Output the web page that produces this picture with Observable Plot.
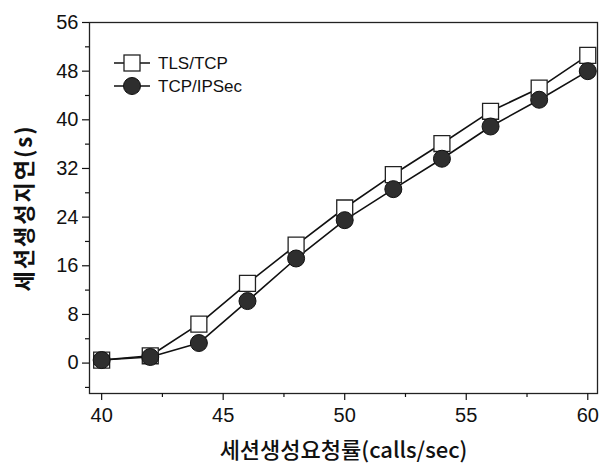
<!DOCTYPE html>
<html><head><meta charset="utf-8">
<script src="https://cdn.jsdelivr.net/npm/d3@7"></script>
<script src="https://cdn.jsdelivr.net/npm/@observablehq/plot@0.6"></script>
<style>
body{margin:0;background:#fff}
#chart{width:613px;height:466px}
</style>
</head><body><div id="chart"></div>
<script>
const rates = [40, 42, 44, 46, 48, 50, 52, 54, 56, 58, 60];
const tlsTcp = [0.5, 1.2, 6.4, 13.1, 19.4, 25.5, 31.0, 36.1, 41.4, 45.2, 50.6];
const tcpIpsec = [0.5, 1.0, 3.3, 10.2, 17.2, 23.5, 28.6, 33.6, 38.9, 43.3, 48.0];
const seriesNames = ["TLS/TCP", "TCP/IPSec"];
const yMajor = [0, 8, 16, 24, 32, 40, 48, 56];
const yMinor = [-4, 4, 12, 20, 28, 36, 44, 52];
const xMajor = [40, 45, 50, 55, 60];
const xMinor = [42.5, 47.5, 52.5, 57.5];
const xTitle = "세션생성요청률(calls/sec)";
const yTitle = "세션생성지연(s)";

const rows = [];
rates.forEach((r, i) => {
  rows.push({rate: r, delay: tlsTcp[i], series: seriesNames[0]});
  rows.push({rate: r, delay: tcpIpsec[i], series: seriesNames[1]});
});
const tls = rows.filter(d => d.series === seriesNames[0]);
const ips = rows.filter(d => d.series === seriesNames[1]);

const titleFont = "'Noto Sans CJK KR', 'Noto Sans', sans-serif";
const tickFont = "'Liberation Sans', Arial, sans-serif";

const plot = Plot.plot({
  width: 613,
  height: 466,
  marginTop: 22,
  marginBottom: 73,
  marginLeft: 89,
  marginRight: 16,
  style: {fontFamily: tickFont, fontSize: "20px", color: "#111", background: "#fff"},
  x: {domain: [39.5, 60.4]},
  y: {domain: [-5, 56]},
  marks: [
    Plot.frame({stroke: "#222", strokeWidth: 1.3}),
    Plot.axisX(xMajor, {tickSize: 7, tickPadding: 7, label: null, strokeWidth: 1.2}),
    Plot.axisX(xMinor, {tickSize: 4, tickFormat: () => "", label: null, strokeWidth: 1.2}),
    Plot.axisY(yMajor, {tickSize: 7, tickPadding: 4, label: null, strokeWidth: 1.2}),
    Plot.axisY(yMinor, {tickSize: 4, tickFormat: () => "", label: null, strokeWidth: 1.2}),
    Plot.text([yTitle], {frameAnchor: "left", textAnchor: "middle", lineAnchor: "middle", rotate: -90, dx: -65, fontSize: 22, fontWeight: 600, fontFamily: titleFont, fill: "#111"}),
    Plot.text([xTitle], {frameAnchor: "bottom", textAnchor: "middle", lineAnchor: "middle", dy: 57, fontSize: 22, fontWeight: 500, fontFamily: titleFont, fill: "#111"}),
    Plot.line(rows, {x: "rate", y: "delay", z: "series", stroke: "#111", strokeWidth: 1.6}),
    Plot.dot(tls, {x: "rate", y: "delay", symbol: "square", r: 9, fill: "#fff", stroke: "#222", strokeWidth: 1.3}),
    Plot.dot(ips, {x: "rate", y: "delay", symbol: "circle", r: 8.5, fill: "#2e2e2e", stroke: "#111", strokeWidth: 1})
  ]
});

const svg = d3.select(plot);
svg.selectAll("g[aria-label='text'] text").filter(function() { return this.textContent === yTitle; }).attr("letter-spacing", "2px");

// legend inside the plot frame, top-left
const lg = svg.append("g").attr("font-family", tickFont).attr("font-size", 17).attr("text-anchor", "start");
const fx = 89, fy = 22;
seriesNames.forEach((name, i) => {
  const y = fy + 41 + i * 23;
  const g = lg.append("g").attr("transform", `translate(${fx + 25},${y})`);
  g.append("line").attr("x1", 0).attr("x2", 36).attr("stroke", "#111").attr("stroke-width", 1.6);
  if (i === 0) {
    g.append("rect").attr("x", 18 - 8).attr("y", -8).attr("width", 16).attr("height", 16).attr("fill", "#fff").attr("stroke", "#222").attr("stroke-width", 1.3);
  } else {
    g.append("circle").attr("cx", 18).attr("r", 8.5).attr("fill", "#2e2e2e").attr("stroke", "#111");
  }
  g.append("text").attr("x", 44).attr("dy", "0.36em").attr("fill", "#111").text(name);
});

document.getElementById("chart").appendChild(plot);
</script>
</body></html>
